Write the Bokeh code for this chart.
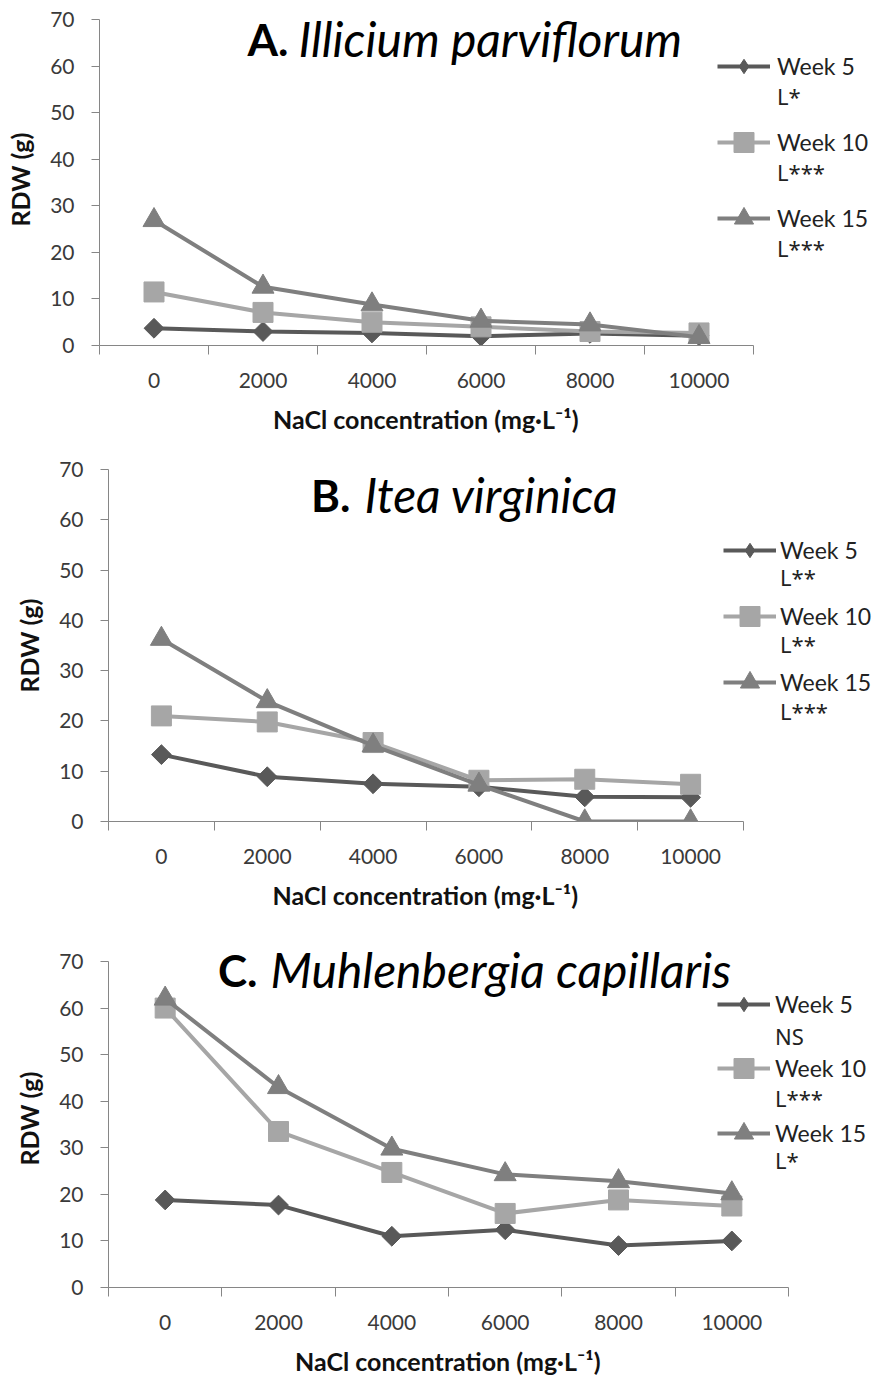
import math
from bokeh.plotting import figure
from bokeh.layouts import column
from bokeh.models import Range1d, FixedTicker, Legend, LegendItem, Label, Title
from bokeh.embed import file_html
from bokeh.resources import INLINE

FONT = "Lato"
SIG_FONT = "Noto Sans"

# ---------------- data ----------------
conc = [0, 2000, 4000, 6000, 8000, 10000]
conc_labels = ["0", "2000", "4000", "6000", "8000", "10000"]
weeks = ["Week 5", "Week 10", "Week 15"]
y_ticks = [0, 10, 20, 30, 40, 50, 60, 70]
x_title = "NaCl concentration (mg\u00b7L\u207b\u00b9)"
y_title = "RDW (g)"

a_week5 = [3.7, 3.0, 2.7, 2.0, 2.6, 2.1]
a_week10 = [11.5, 7.1, 5.0, 4.0, 3.0, 2.7]
a_week15 = [26.9, 12.6, 8.8, 5.3, 4.5, 1.8]
a_sig = ["L*", "L***", "L***"]

b_week5 = [13.3, 8.9, 7.5, 6.9, 4.9, 4.8]
b_week10 = [21.0, 19.8, 15.7, 8.2, 8.4, 7.4]
b_week15 = [36.3, 23.9, 15.1, 7.3, 0.0, 0.0]
b_sig = ["L**", "L**", "L***"]

c_week5 = [18.8, 17.7, 11.0, 12.4, 9.0, 10.0]
c_week10 = [60.0, 33.5, 24.7, 15.9, 18.8, 17.5]
c_week15 = [62.0, 43.0, 29.8, 24.3, 22.8, 20.2]
c_sig = ["NS", "L***", "L*"]

# ---------------- style ----------------
series_colors = ["#595959", "#A6A6A6", "#7F7F7F"]
series_markers = ["square", "square", "triangle"]   # diamond = rotated square
legend_markers = ["diamond", "square", "triangle"]
marker_angles = [math.pi / 4, 0.0, 0.0]
marker_sizes = [14, 20, 22]
legend_glyph_h = [36, 50, 48]
AXIS_COLOR = "#868686"
TICK_TEXT = "#3a3a3a"
BOLD_SIZE = 44
ITALIC_SIZE = 48
XT_W = 307          # estimated rendered width of the x title

panels = [
    dict(letter="A.", species="Illicium parviflorum", data=[a_week5, a_week10, a_week15], sig=a_sig,
         axis_w=654, axis_h=326, ext=6, left=99, top=13, bottom=106,
         tx=189, ty=307, gap=10,
         lx=618, stand=7, wk_c=[279, 203, 127], sig_c=[249, 173, 97], sig_pitch=76),
    dict(letter="B.", species="Itea virginica", data=[b_week5, b_week10, b_week15], sig=b_sig,
         axis_w=635, axis_h=352, ext=0, left=108, top=18, bottom=110,
         tx=242, ty=327, gap=14,
         lx=615, stand=4, wk_c=[271, 205, 139], sig_c=[244, 177, 110], sig_pitch=67),
    dict(letter="C.", species="Muhlenbergia capillaris", data=[c_week5, c_week10, c_week15], sig=c_sig,
         axis_w=680, axis_h=326, ext=12, left=108, top=18, bottom=85,
         tx=149, ty=318, gap=13,
         lx=609, stand=5, wk_c=[283, 219, 154], sig_c=[251, 189, 127], sig_pitch=62),
]

TOTAL_W = 874


def style_legend(leg, font, size, standoff):
    leg.label_text_font = font
    leg.label_text_font_size = size
    leg.label_text_color = "#222222"
    leg.glyph_width = 53
    leg.label_standoff = standoff
    leg.padding = 0
    leg.margin = 0
    leg.border_line_color = None
    leg.background_fill_alpha = 0


def build(cfg):
    fw = TOTAL_W - cfg["left"]
    fh = cfg["axis_h"] + cfg["ext"]
    x0 = conc[0] - 1000
    x1 = conc[-1] + 1000
    x_end = x0 + (x1 - x0) * fw / cfg["axis_w"]
    y0, y1 = y_ticks[0], y_ticks[-1]
    y_end = y0 + (y1 - y0) * fh / cfg["axis_h"]
    p = figure(frame_width=fw, frame_height=fh,
               min_border_left=cfg["left"], min_border_right=0,
               min_border_top=cfg["top"], min_border_bottom=cfg["bottom"],
               x_range=Range1d(x0, x_end), y_range=Range1d(y0, y_end),
               output_backend="svg", toolbar_location=None, tools="")
    p.frame_align = False
    p.outline_line_color = None
    p.grid.visible = False
    p.background_fill_color = "white"

    xa = p.xaxis[0]
    xa.bounds = (x0, x1)
    xa.ticker = FixedTicker(ticks=conc, minor_ticks=[c - 1000 for c in conc] + [x1])
    xa.major_label_overrides = {c: lab for c, lab in zip(conc, conc_labels)}
    xa.major_tick_out = 0
    xa.major_tick_in = 0
    xa.minor_tick_out = 9
    xa.minor_tick_in = 0
    xa.minor_tick_line_color = AXIS_COLOR
    xa.axis_line_color = AXIS_COLOR
    xa.major_label_text_font = FONT
    xa.major_label_text_font_size = "21px"
    xa.major_label_text_color = TICK_TEXT
    xa.major_label_standoff = 18

    ya = p.yaxis[0]
    ya.bounds = (y0, y1)
    ya.ticker = FixedTicker(ticks=y_ticks)
    ya.major_tick_out = 8
    ya.major_tick_in = 0
    ya.minor_tick_out = 0
    ya.minor_tick_in = 0
    ya.major_tick_line_color = AXIS_COLOR
    ya.axis_line_color = AXIS_COLOR
    ya.major_label_text_font = FONT
    ya.major_label_text_font_size = "21px"
    ya.major_label_text_color = TICK_TEXT
    ya.major_label_standoff = 17
    ya.axis_label = y_title
    ya.axis_label_text_font = FONT
    ya.axis_label_text_font_style = "bold"
    ya.axis_label_text_font_size = "25px"
    ya.axis_label_text_color = "#111111"
    ya.axis_label_standoff = 12

    # x-axis title, centred under the bounded axis
    p.add_layout(Title(text="\n" + x_title, align="left", offset=cfg["axis_w"] / 2 - XT_W / 2,
                       vertical_align="top", standoff=0, text_font=FONT,
                       text_font_size="25px", text_font_style="bold", text_color="#111111",
                       text_line_height=0.45), "below")

    sig_items = []
    for i, ys in enumerate(cfg["data"]):
        col = series_colors[i]
        rl = p.line(conc, ys, line_color=col, line_width=4)
        rs = p.scatter(conc, ys, marker=series_markers[i], size=marker_sizes[i],
                       angle=marker_angles[i], fill_color=col, line_color=col, line_width=1)
        if legend_markers[i] != series_markers[i]:
            # legend-only proxy (zero-size in the plot) so the key shows the diamond shape
            rs = p.scatter(conc, ys, marker=legend_markers[i], size=0,
                           fill_color=col, line_color=col, line_width=1)
        gh = legend_glyph_h[i]
        wk = Legend(items=[LegendItem(label=weeks[i], renderers=[rl, rs])],
                    location=(cfg["lx"], cfg["wk_c"][i] - gh / 2))
        style_legend(wk, FONT, "23px", cfg["stand"])
        wk.glyph_height = gh
        wk.label_height = gh
        p.add_layout(wk)
        sig_items.append(LegendItem(label=cfg["sig"][i], renderers=[]))

    sg = Legend(items=sig_items, location=(cfg["lx"], cfg["sig_c"][-1] - 15))
    style_legend(sg, SIG_FONT, "22px", cfg["stand"])
    sg.glyph_height = 30
    sg.label_height = 30
    sg.spacing = cfg["sig_pitch"] - 30
    p.add_layout(sg)

    p.add_layout(Label(x=cfg["tx"], y=cfg["ty"], x_units="screen", y_units="screen",
                       text=cfg["letter"], text_font=FONT, text_font_style="bold",
                       text_font_size=f"{BOLD_SIZE}px", text_align="right",
                       text_baseline="alphabetic", text_color="#000000"))
    p.add_layout(Label(x=cfg["tx"] + cfg["gap"], y=cfg["ty"], x_units="screen", y_units="screen",
                       text=cfg["species"], text_font=FONT, text_font_style="italic",
                       text_font_size=f"{ITALIC_SIZE}px", text_align="left",
                       text_baseline="alphabetic", text_color="#000000"))
    return p


figs = [build(cfg) for cfg in panels]
layout = column(*figs, spacing=0)
open("out.html", "w").write(file_html(layout, INLINE))
